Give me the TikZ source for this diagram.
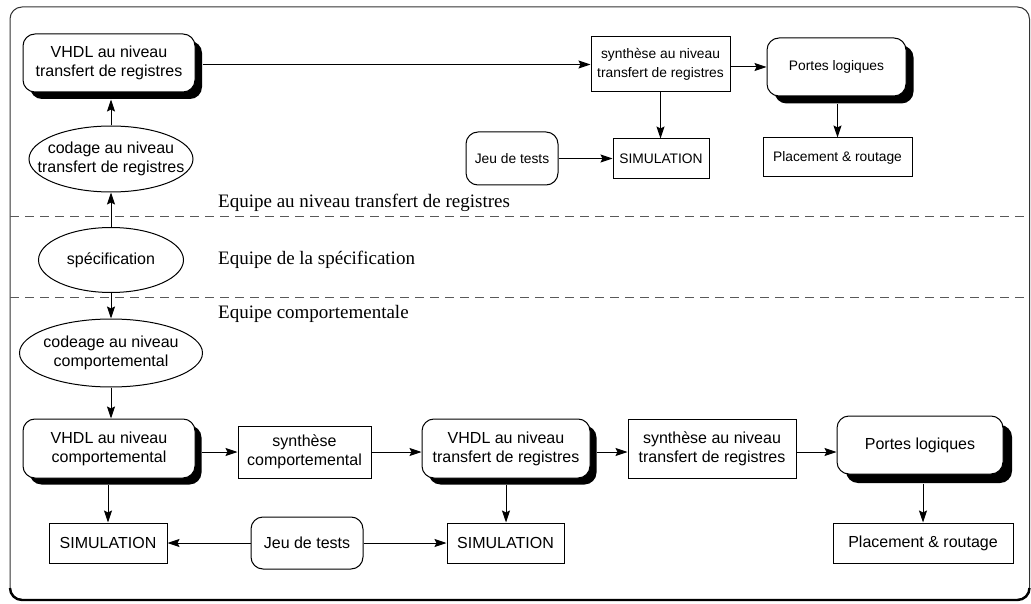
\documentclass[tikz,border=0pt]{standalone}
\usepackage{fontspec}
\setmainfont{Liberation Serif}
\setsansfont{Liberation Sans}
\usetikzlibrary{arrows.meta,shapes.geometric,shadows,calc}
\begin{document}
\begin{tikzpicture}[x=1pt,y=-1pt,
  base/.style={draw=black, line width=1pt, align=center, fill=white,
    font=\sffamily\fontsize{16}{19}\selectfont, inner sep=2pt},
  small/.style={font=\sffamily\fontsize{13.8}{19.5}\selectfont},
  sqbox/.style={base, rectangle},
  rbox/.style={base, rounded corners=12pt},
  shbox/.style={rbox, general shadow={fill=black, shadow xshift=#1, shadow yshift=-#1}},
  shbox/.default=7pt,
  ell/.style={base, ellipse, inner xsep=-20pt, inner ysep=-10pt},
  arr/.style={-{Stealth[length=12pt,width=8pt,inset=2pt]}, line width=1pt},
  team/.style={anchor=west, font=\rmfamily\fontsize{19}{22}\selectfont, inner sep=0pt},
  sep/.style={dash pattern=on 9pt off 6pt, line width=1pt, draw=black!65}
]
\useasboundingbox (0,0) rectangle (1031,604);
% frame
\draw[line width=1pt, draw=black!80, rounded corners=12pt] (10,7) rectangle (1029.5,599.5);
\draw[line width=2.4pt, rounded corners=12pt] (10,588) -- (10,600) -- (1029.5,600) -- (1029.5,588);
% team separators
\draw[sep] (10,217) -- (1029.5,217);
\draw[sep] (10,297) -- (1029.5,297);
\node[team] (t1) at (218,203) {Equipe au niveau transfert de registres};
\node[team] (t2) at (218,260) {Equipe de la sp\'ecification};
\node[team] (t3) at (218,314) {Equipe comportementale};

% top part
\node[shbox, minimum width=172pt, minimum height=58pt] (vhdlT) at (109,63) {VHDL au niveau\\transfert de registres};
\node[ell, minimum width=164pt, minimum height=66pt] (codT) at (111,159) {codage au niveau\\transfert de registres};
\node[ell, minimum width=145pt, minimum height=65pt] (spec) at (111,260) {sp\'ecification};
\node[ell, minimum width=183pt, minimum height=68pt] (codB) at (111,353) {codeage au niveau\\comportemental};

\node[sqbox, small, minimum width=139pt, minimum height=55pt] (synT) at (660.5,64.5) {synth\`ese au niveau\\transfert de registres};
\node[shbox=7.5pt, small, minimum width=139pt, minimum height=58pt] (portT) at (836.5,67) {Portes logiques};
\node[rbox, small, minimum width=92pt, minimum height=53pt] (jeuT) at (512,158.5) {Jeu de tests};
\node[sqbox, small, minimum width=96pt, minimum height=40pt] (simT) at (661,159) {SIMULATION};
\node[sqbox, small, minimum width=149pt, minimum height=39pt] (placT) at (837.5,157.5) {Placement \& routage};

% bottom part
\node[shbox=6.5pt, minimum width=172pt, minimum height=59pt] (vhdlC) at (109,448.5) {VHDL au niveau\\comportemental};
\node[sqbox, minimum width=133pt, minimum height=52pt] (synC) at (304.5,452) {synth\`ese\\comportemental};
\node[shbox=6.5pt, minimum width=168pt, minimum height=59pt] (vhdlR) at (506,448.5) {VHDL au niveau\\transfert de registres};
\node[sqbox, minimum width=168pt, minimum height=59pt] (synR) at (712,448.5) {synth\`ese au niveau\\transfert de registres};
\node[shbox=9pt, minimum width=166pt, minimum height=58pt] (portB) at (920,445) {Portes logiques};
\node[sqbox, minimum width=180pt, minimum height=40pt] (placB) at (923,543) {Placement \& routage};
\node[sqbox, minimum width=118pt, minimum height=40pt] (simL) at (108,543) {SIMULATION};
\node[rbox, minimum width=112pt, minimum height=52pt] (jeuB) at (307,543) {Jeu de tests};
\node[sqbox, minimum width=117pt, minimum height=40pt] (simM) at (505.5,543) {SIMULATION};

% connectors top
\draw[arr, shorten >=7pt] (codT.north) -- (codT.north |- vhdlT.south);
\draw[arr] (spec.north) -- (codT.south);
\draw[arr] (spec.south) -- (codB.north);
\draw[arr] (codB.south) -- (codB.south |- vhdlC.north);
\draw[arr, shorten <=7pt] (vhdlT.east |- synT.west) -- (synT.west);
\draw[arr] (synT.east |- portT.west) -- (portT.west);
\draw[arr] (synT.south) -- (synT.south |- simT.north);
\draw[arr] (jeuT.east) -- (jeuT.east -| simT.west);
\draw[arr, shorten <=7.5pt] (portT.south -| placT.north) -- (placT.north);

% connectors bottom
\draw[arr, shorten <=6.5pt] (vhdlC.east |- synC.west) -- (synC.west);
\draw[arr] (synC.east) -- (synC.east -| vhdlR.west);
\draw[arr, shorten <=6.5pt] (vhdlR.east |- synC.east) -- (synR.west |- synC.east);
\draw[arr] (synR.east |- synC.east) -- (portB.west |- synC.east);
\draw[arr, shorten <=6.5pt] (simL.north |- vhdlC.south) -- (simL.north);
\draw[arr, shorten <=6.5pt] (vhdlR.south) -- (vhdlR.south |- simM.north);
\draw[arr, shorten <=9pt] (portB.south -| placB.north) -- (placB.north);
\draw[arr] (jeuB.west) -- (simL.east);
\draw[arr] (jeuB.east) -- (simM.west);
\end{tikzpicture}
\end{document}
